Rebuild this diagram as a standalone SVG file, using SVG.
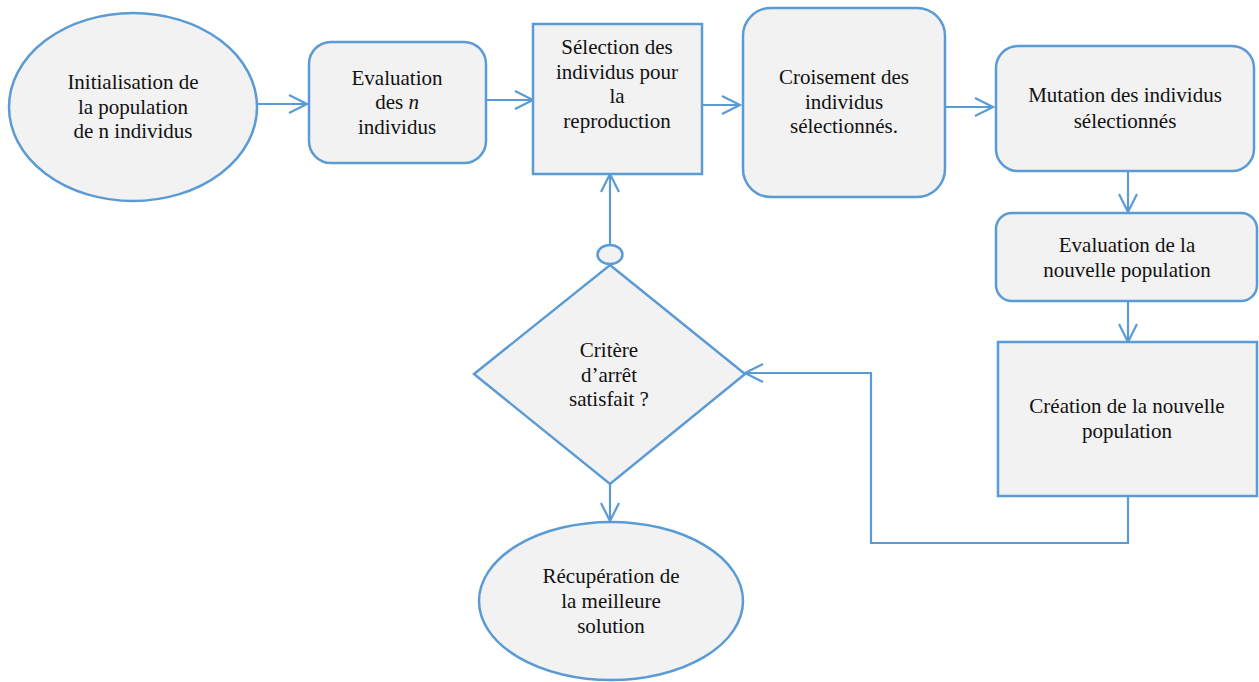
<svg xmlns="http://www.w3.org/2000/svg" width="1259" height="682" viewBox="0 0 1259 682">
  <style>
    .shape { fill: #f2f2f2; stroke: #5b9bd5; stroke-width: 2.5; }
    .conn { fill: none; stroke: #5b9bd5; stroke-width: 2.2; }
    .lbl { font-family: 'Liberation Serif', 'Times New Roman', serif; font-size: 21px; fill: #111; text-anchor: middle; }
  </style>
  <defs>
    <marker id="arrow" markerUnits="userSpaceOnUse" markerWidth="24" markerHeight="24" refX="20" refY="12" orient="auto">
      <path d="M2,3 L20,12 L2,21" fill="none" stroke="#5b9bd5" stroke-width="2.2"/>
    </marker>
  </defs>
  <rect width="1259" height="682" fill="#ffffff"/>

  <!-- connectors -->
  <g id="connectors">
    <line class="conn" x1="257" y1="104" x2="307" y2="104" marker-end="url(#arrow)"/>
    <line class="conn" x1="486" y1="100" x2="533" y2="100" marker-end="url(#arrow)"/>
    <line class="conn" x1="702" y1="105" x2="740" y2="105" marker-end="url(#arrow)"/>
    <line class="conn" x1="943" y1="107" x2="993" y2="107" marker-end="url(#arrow)"/>
    <line class="conn" x1="1128" y1="171" x2="1128" y2="212" marker-end="url(#arrow)"/>
    <line class="conn" x1="1128" y1="301" x2="1128" y2="342" marker-end="url(#arrow)"/>
    <polyline class="conn" points="1128,496 1128,543 871,543 871,373 745,373" marker-end="url(#arrow)"/>
    <line class="conn" x1="610" y1="245" x2="610" y2="174" marker-end="url(#arrow)"/>
    <ellipse class="shape" cx="610" cy="254.5" rx="12.5" ry="9.5"/>
    <line class="conn" x1="610" y1="484" x2="610" y2="521" marker-end="url(#arrow)"/>
  </g>

  <g class="lbl">
  <g id="init">
    <ellipse class="shape" cx="133" cy="107" rx="124" ry="94"/>
    <text x="133" y="89">Initialisation de</text>
    <text x="133" y="114">la population</text>
    <text x="133" y="138">de n individus</text>
  </g>

  <g id="evaluation">
    <rect class="shape" x="309" y="42" width="177" height="121" rx="22"/>
    <text x="397" y="85">Evaluation</text>
    <text x="397" y="109">des <tspan font-style="italic">n</tspan></text>
    <text x="397" y="134">individus</text>
  </g>

  <g id="selection">
    <rect class="shape" x="533" y="24" width="169" height="150"/>
    <text x="617" y="54">Sélection des</text>
    <text x="617" y="79">individus pour</text>
    <text x="617" y="103">la</text>
    <text x="617" y="128">reproduction</text>
  </g>

  <g id="croisement">
    <rect class="shape" x="743" y="8" width="202" height="189" rx="28"/>
    <text x="844" y="84">Croisement des</text>
    <text x="844" y="109">individus</text>
    <text x="844" y="133">sélectionnés.</text>
  </g>

  <g id="mutation">
    <rect class="shape" x="996" y="46" width="258" height="125" rx="22"/>
    <text x="1125" y="102">Mutation des individus</text>
    <text x="1125" y="128">sélectionnés</text>
  </g>

  <g id="evaluation-nouvelle">
    <rect class="shape" x="996" y="213" width="261" height="88" rx="16"/>
    <text x="1127" y="252">Evaluation de la</text>
    <text x="1127" y="277">nouvelle population</text>
  </g>

  <g id="creation">
    <rect class="shape" x="998" y="342" width="259" height="154"/>
    <text x="1127" y="413">Création de la nouvelle</text>
    <text x="1127" y="438">population</text>
  </g>

  <g id="critere">
    <polygon class="shape" points="610,265 745,374 610,484 474,374"/>
    <text x="609" y="357">Critère</text>
    <text x="609" y="382">d’arrêt</text>
    <text x="609" y="406">satisfait ?</text>
  </g>

  <g id="recuperation">
    <ellipse class="shape" cx="611" cy="601" rx="132" ry="79"/>
    <text x="611" y="583">Récupération de</text>
    <text x="611" y="608">la meilleure</text>
    <text x="611" y="633">solution</text>
  </g>
  </g>
</svg>
